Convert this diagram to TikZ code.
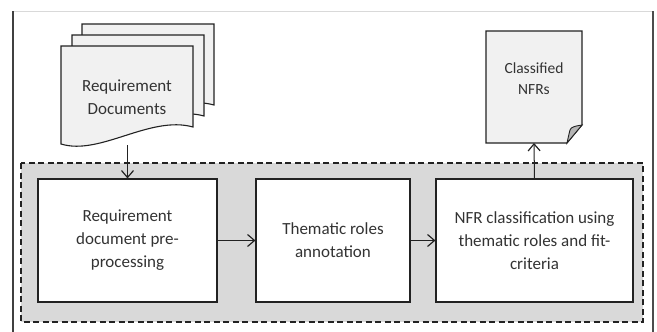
\documentclass[tikz,border=0pt]{standalone}
\usepackage{fontspec}
\setmainfont{Carlito}
\usetikzlibrary{arrows.meta}
\definecolor{txt}{HTML}{333333}
\definecolor{edge}{HTML}{222222}
\definecolor{pagefill}{HTML}{F1F1F1}
\definecolor{groupfill}{HTML}{D9D9D9}
\definecolor{foldfill}{HTML}{B5B5B5}
\tikzset{
  stepbox/.style={draw=edge, line width=1.1pt, fill=white, text=txt,
    align=center, font=\fontsize{17}{23}\selectfont, inner sep=0pt},
  page/.style={draw=edge, line width=1.1pt, fill=pagefill},
  flow/.style={draw=edge, line width=1pt,
    -{Straight Barb[length=7pt,width=12pt,line width=1.2pt]}},
  group/.style={draw=edge, line width=1.2pt, fill=groupfill,
    dash pattern=on 6pt off 3.5pt},
  label/.style={text=txt, align=center, inner sep=0pt}
}
% one sheet of the stacked document symbol, top-left corner at the origin
\newcommand\wavepage{%
  \path[page] (0,0) -- (132,0) -- (132,81)
    .. controls (89,69) and (39,110) .. (0,98) -- cycle;}
\begin{document}
\begin{tikzpicture}[x=1pt,y=-1pt]
\useasboundingbox (0,0) rectangle (657,332);

% outer frame
\draw[color=black!15, line width=0.8pt] (13,11) -- (653,11);
\draw[color=black!75, line width=1.3pt] (13,11) -- (13,332);
\draw[color=black!70, line width=2pt] (653,11) -- (653,332);

% dashed processing group
\path[group] (21,163) rectangle (643,322);

% stacked input documents
\begin{scope}[shift={(82,24)}]\wavepage\end{scope}
\begin{scope}[shift={(72,35)}]\wavepage\end{scope}
\begin{scope}[shift={(61,46)}]\wavepage\end{scope}
\node[label, font=\fontsize{17}{23}\selectfont] (reqdoc) at (127,97)
  {Requirement\\Documents};
\coordinate (docbot) at (127.5,145);

% output document with folded corner
\path[page] (486,31) -- (582,31) -- (582,125) -- (567,143) -- (486,143) -- cycle;
\path[draw=edge, line width=0.9pt, fill=foldfill] (582,125)
  .. controls (575,126) and (571,127) .. (570,130)
  .. controls (569,134) .. (567,143) -- cycle;
\node[label, font=\fontsize{15.5}{21}\selectfont] (cdoc) at (534,79)
  {Classified\\NFRs};
\coordinate (cdocbot) at (534,143);

% processing steps
\node[stepbox, minimum width=179pt, minimum height=123pt] (b1) at (127.5,240.5)
  {Requirement\\document pre-\\processing};
\node[stepbox, minimum width=154pt, minimum height=123pt] (b2) at (333,240.5)
  {Thematic roles\\annotation};
\node[stepbox, minimum width=197pt, minimum height=123pt] (b3) at (534.5,240.5)
  {NFR classification using\\thematic roles and fit-\\criteria};

% connectors
\draw[flow] (docbot) -- (b1.north);
\draw[flow] (b1.east) -- (b2.west);
\draw[flow] (b2.east) -- (b3.west);
\draw[flow] (b3.north) -- (cdocbot);
\end{tikzpicture}
\end{document}
